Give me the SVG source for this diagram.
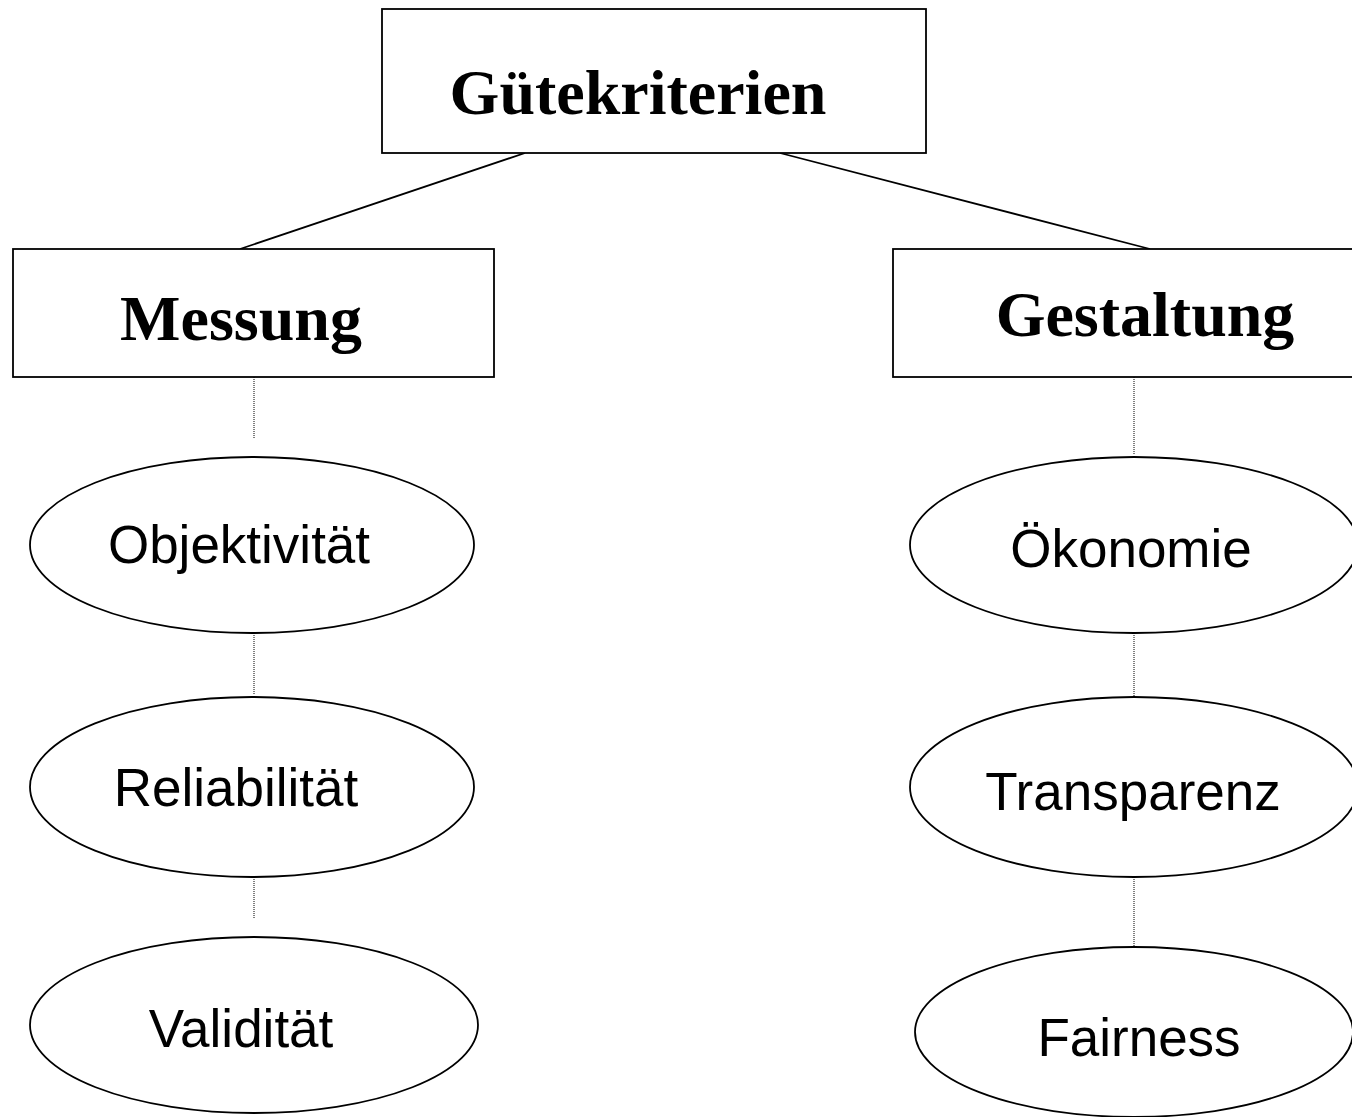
<svg xmlns="http://www.w3.org/2000/svg" width="1352" height="1117" viewBox="0 0 1352 1117">
<style>
.box{fill:#fff;stroke:#000;stroke-width:1.8}
.ell{fill:#fff;stroke:#000;stroke-width:1.8}
.conn{stroke:#000;stroke-width:1.8;fill:none}
.dot{stroke:#000;stroke-width:1;stroke-dasharray:1 1;fill:none}
.h{font-family:"Liberation Serif","Times New Roman",serif;font-weight:bold;font-size:64px;text-anchor:middle;fill:#000}
.t{font-family:"Liberation Sans",Arial,sans-serif;font-size:53px;text-anchor:middle;fill:#000}
</style>
<rect width="1352" height="1117" fill="#fff"/>
<g id="connectors">
<line class="conn" x1="525" y1="153" x2="240" y2="249"/>
<line class="conn" x1="780" y1="153" x2="1150" y2="249"/>
<line class="dot" x1="254" y1="377" x2="254" y2="438"/>
<line class="dot" x1="254" y1="633" x2="254" y2="695"/>
<line class="dot" x1="254" y1="877" x2="254" y2="918"/>
<line class="dot" x1="1134" y1="377" x2="1134" y2="455"/>
<line class="dot" x1="1134" y1="633" x2="1134" y2="697"/>
<line class="dot" x1="1134" y1="877" x2="1134" y2="950"/>
</g>
<g id="guetekriterien">
<rect class="box" x="382" y="9" width="544" height="144"/>
<text class="h" x="638" y="114">Gütekriterien</text>
</g>
<g id="messung">
<rect class="box" x="13" y="249" width="481" height="128"/>
<text class="h" x="241" y="340">Messung</text>
</g>
<g id="gestaltung">
<rect class="box" x="893" y="249" width="504" height="128"/>
<text class="h" x="1145" y="336">Gestaltung</text>
</g>
<g id="objektivitaet">
<ellipse class="ell" cx="252" cy="545" rx="222" ry="88"/>
<text class="t" x="239" y="563">Objektivität</text>
</g>
<g id="reliabilitaet">
<ellipse class="ell" cx="252" cy="787" rx="222" ry="90"/>
<text class="t" x="236" y="806">Reliabilität</text>
</g>
<g id="validitaet">
<ellipse class="ell" cx="254" cy="1025" rx="224" ry="88"/>
<text class="t" x="241" y="1047">Validität</text>
</g>
<g id="oekonomie">
<ellipse class="ell" cx="1134" cy="545" rx="224" ry="88"/>
<text class="t" x="1131" y="567">Ökonomie</text>
</g>
<g id="transparenz">
<ellipse class="ell" cx="1134" cy="787" rx="224" ry="90"/>
<text class="t" x="1133" y="810">Transparenz</text>
</g>
<g id="fairness">
<ellipse class="ell" cx="1134" cy="1032" rx="219" ry="85"/>
<text class="t" x="1139" y="1056">Fairness</text>
</g>
</svg>
